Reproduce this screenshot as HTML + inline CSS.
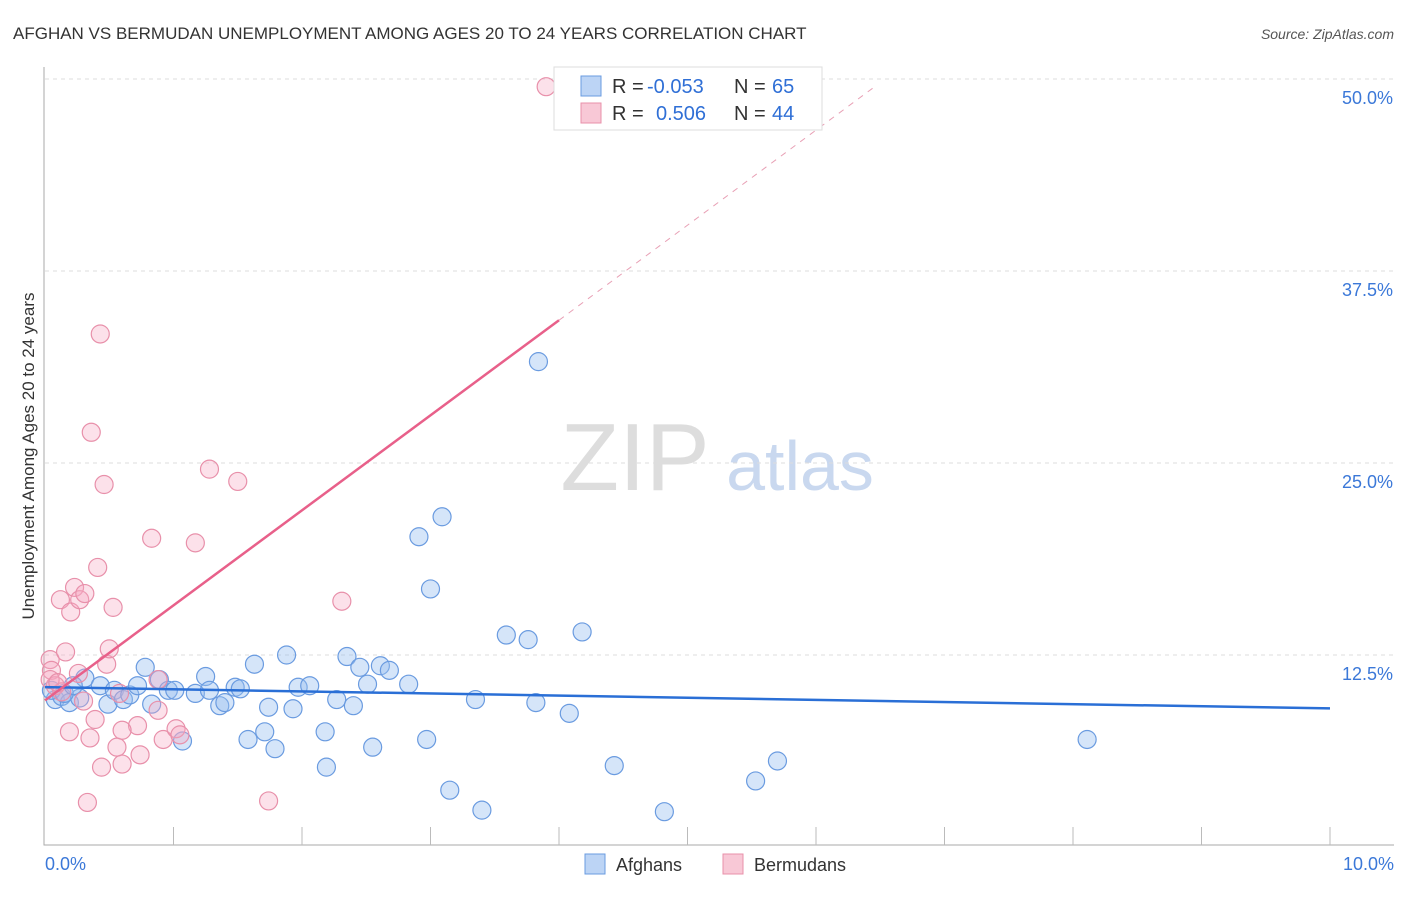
<!DOCTYPE html>
<html><head><meta charset="utf-8"><style>
body{margin:0;background:#fff;font-family:"Liberation Sans",sans-serif;}
svg text{font-family:"Liberation Sans",sans-serif;}
</style></head><body>
<svg id="chart" width="1406" height="892" xmlns="http://www.w3.org/2000/svg">
<text x="13" y="39" font-size="17" fill="#333">AFGHAN VS BERMUDAN UNEMPLOYMENT AMONG AGES 20 TO 24 YEARS CORRELATION CHART</text>
<text x="1394" y="39" font-size="14" fill="#555" font-style="italic" text-anchor="end">Source: ZipAtlas.com</text>
<text x="0" y="0" transform="translate(34,456) rotate(-90)" font-size="17" fill="#333" text-anchor="middle">Unemployment Among Ages 20 to 24 years</text>
<g><text x="635" y="490" font-size="96" fill="#ddd" font-family="Liberation Serif" text-anchor="middle">ZIP</text><text x="800" y="490" font-size="70" fill="#c9d8ef" text-anchor="middle">atlas</text></g>
<g id="grid"></g><g id="axes"></g><g id="marks"></g>
<g>
<rect x="554" y="67" width="268" height="63" fill="#fff" stroke="#ddd"/>
<rect x="581" y="76" width="20" height="20" fill="#bcd4f5" stroke="#6a9be0"/>
<rect x="581" y="103" width="20" height="20" fill="#f8c8d6" stroke="#e890aa"/>
<text x="612" y="93" font-size="20" fill="#333">R =</text>
<text x="647" y="93" font-size="20" fill="#2f6fd6">-0.053</text>
<text x="734" y="93" font-size="20" fill="#333">N =</text>
<text x="772" y="93" font-size="20" fill="#2f6fd6">65</text>
<text x="612" y="120" font-size="20" fill="#333">R =</text>
<text x="656" y="120" font-size="20" fill="#2f6fd6">0.506</text>
<text x="734" y="120" font-size="20" fill="#333">N =</text>
<text x="772" y="120" font-size="20" fill="#2f6fd6">44</text>
</g>
<g>
<rect x="585" y="854" width="20" height="20" fill="#bcd4f5" stroke="#6a9be0"/>
<text x="616" y="871" font-size="18" fill="#333">Afghans</text>
<rect x="723" y="854" width="20" height="20" fill="#f8c8d6" stroke="#e890aa"/>
<text x="754" y="871" font-size="18" fill="#333">Bermudans</text>
</g>
</svg>
<script>
const yTicks=[12.5,25,37.5,50];
const yTickLabels=["12.5%","25.0%","37.5%","50.0%"];
const xTickLabels=["0.0%","10.0%"];
const afghansX=[0.08,0.13,0.19,0.27,0.31,0.43,0.49,0.54,0.61,0.66,0.72,0.78,0.83,0.89,0.96,1.01,1.07,1.17,1.25,1.28,1.36,1.4,1.48,1.52,1.58,1.63,1.71,1.74,1.79,1.88,1.93,1.97,2.06,2.18,2.19,2.27,2.35,2.4,2.45,2.51,2.55,2.61,2.68,2.83,2.91,2.97,3.0,3.09,3.15,3.35,3.4,3.59,3.76,3.82,3.84,4.08,4.18,4.43,4.82,5.53,5.7,8.11,0.05,0.15,0.22];
const afghansY=[9.6,9.8,9.4,9.7,11.0,10.5,9.3,10.2,9.6,9.9,10.5,11.7,9.3,10.9,10.2,10.2,6.9,10.0,11.1,10.2,9.2,9.4,10.4,10.3,7.0,11.9,7.5,9.1,6.4,12.5,9.0,10.4,10.5,7.5,5.2,9.6,12.4,9.2,11.7,10.6,6.5,11.8,11.5,10.6,20.2,7.0,16.8,21.5,3.7,9.6,2.4,13.8,13.5,9.4,31.6,8.7,14.0,5.3,2.3,4.3,5.6,7.0,10.2,10.0,10.5];
const bermudansX=[0.04,0.05,0.08,0.12,0.13,0.16,0.19,0.2,0.23,0.26,0.27,0.31,0.33,0.35,0.36,0.39,0.41,0.43,0.44,0.46,0.48,0.5,0.53,0.56,0.6,0.72,0.74,0.83,0.88,0.88,0.92,1.02,1.05,1.17,1.28,1.5,1.74,2.31,3.9,0.04,0.1,0.6,0.3,0.58];
const bermudansY=[12.2,11.5,10.5,16.1,10.1,12.7,7.5,15.3,16.9,11.3,16.1,16.5,2.9,7.1,27.0,8.3,18.2,33.4,5.2,23.6,11.9,12.9,15.6,6.5,5.4,7.9,6.0,20.1,10.9,8.9,7.0,7.7,7.3,19.8,24.6,23.8,3.0,16.0,49.5,10.9,10.7,7.6,9.5,10.0];
const xMin=0,xMax=10,yMin=0,yMax=50;
const X=v=>45+(v-xMin)/(xMax-xMin)*1285;
const Y=v=>847-(v-yMin)/(yMax-yMin)*768;
const ns="http://www.w3.org/2000/svg";
function mk(parent,tag,attrs){const e=document.createElementNS(ns,tag);for(const k in attrs)e.setAttribute(k,attrs[k]);document.getElementById(parent).appendChild(e);return e;}
yTicks.forEach((t,i)=>{
 const l=mk('grid','line',{x1:45,x2:1394,y1:Y(t),y2:Y(t),stroke:'#ddd','stroke-dasharray':'4,4'});
 
 
 const tx=mk('grid','text',{x:1393,y:Y(t)+25,'font-size':18,fill:'#3b78d8','text-anchor':'end'});tx.textContent=yTickLabels[i];
 
 
});
const ax=mk('axes','path',{d:'M44,67V845H1394',stroke:'#aaa',fill:'none'});


for(let i=1;i<=10;i++){const t=mk('axes','line',{x1:45+i*128.5,x2:45+i*128.5,y1:827,y2:845,stroke:'#bbb'});
 
 }
[[xMin,'start',45],[xMax,'end',1394]].forEach((a,i)=>{const t=mk('axes','text',{x:a[2],y:870,'font-size':18,fill:'#3b78d8','text-anchor':a[1]});t.textContent=xTickLabels[i];
 
 });
function fit(xs,ys){const n=xs.length;let mx=0,my=0;xs.forEach((v,i)=>{mx+=v;my+=ys[i]});mx/=n;my/=n;let sxy=0,sxx=0;xs.forEach((v,i)=>{sxy+=(v-mx)*(ys[i]-my);sxx+=(v-mx)**2});const b=sxy/sxx;return [my-b*mx,b];}
afghansX.forEach((v,i)=>{const c=mk('marks','circle',{cx:X(v),cy:Y(afghansY[i]),r:9,fill:'rgba(150,190,240,0.4)',stroke:'#6a9be0','stroke-width':1.2});
 
 });
bermudansX.forEach((v,i)=>{const c=mk('marks','circle',{cx:X(v),cy:Y(bermudansY[i]),r:9,fill:'rgba(245,170,195,0.35)',stroke:'#e890aa','stroke-width':1.2});
 
 });
const [ba,bb]=fit(afghansX,afghansY);
const bl=mk('marks','line',{x1:X(0),y1:Y(ba),x2:X(10),y2:Y(ba+bb*10),stroke:'#2a6fd6','stroke-width':2.5});


const [pa,pb]=fit(bermudansX,bermudansY);
const xe=4.0,xd=(49.5-pa)/pb;
const pl=mk('marks','line',{x1:X(0),y1:Y(pa),x2:X(xe),y2:Y(pa+pb*xe),stroke:'#e8608a','stroke-width':2.5});


const pd=mk('marks','line',{x1:X(xe),y1:Y(pa+pb*xe),x2:X(xd),y2:Y(49.5),stroke:'#e8a0b5','stroke-width':1,'stroke-dasharray':'6,6'});


</script>
</body></html>
